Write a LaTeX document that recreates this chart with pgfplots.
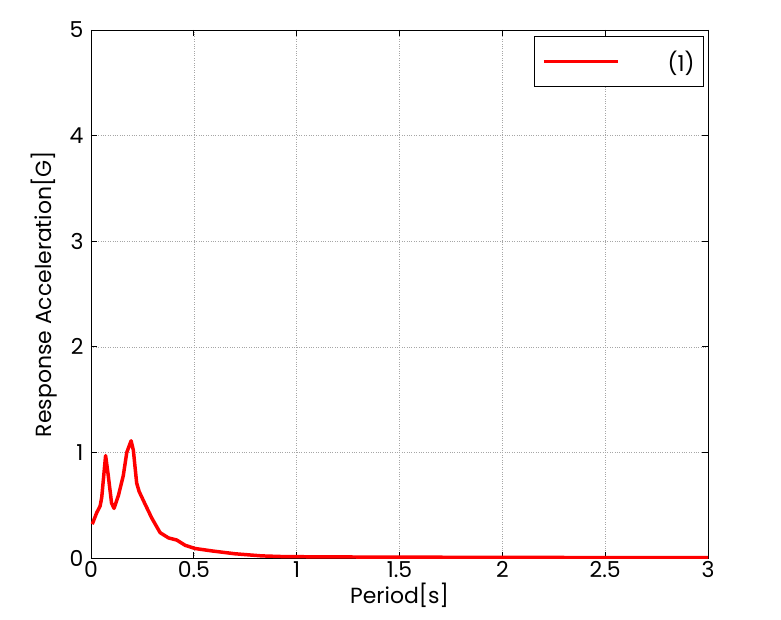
\documentclass[border=0pt]{standalone}
\usepackage{fontspec}
\setmainfont{Poppins}
\usepackage{pgfplots}
\pgfplotsset{compat=1.18}
\begin{document}
\begin{tikzpicture}
\begin{axis}[
  scale only axis, width=617bp, height=528bp,
  xmin=0, xmax=3, ymin=0, ymax=5,
  xtick={0,0.5,...,3}, ytick={0,1,...,5},
  xticklabels={0,0.5,1,1.5,2,2.5,3},
  yticklabels={0,1,2,3,4,5},
  tick align=inside, major tick length=6bp,
  grid=major, grid style={gray!70, dotted, line width=0.6pt},
  axis line style={line width=0.8pt},
  tick style={black, line width=0.8pt},
  ticklabel style={font=\fontsize{22}{24}\selectfont},
  yticklabel style={xshift=-4bp},
  label style={font=\fontsize{22}{24}\selectfont},
  xlabel={Period[s]}, ylabel={Response Acceleration[G]},
  xlabel style={yshift=2bp},
  ylabel style={yshift=6bp},
  legend style={at={(0.9935,0.988)}, anchor=north east, draw=black, line width=0.8pt,
    font=\fontsize{22}{24}\selectfont, inner xsep=8bp, inner ysep=12bp,
    nodes={text width=74bp, align=right, inner xsep=1bp}},
  legend image code/.code={\draw[#1, line width=3.5pt] (0bp,0bp) -- (74bp,0bp);},
]
\addplot[red, line width=3.5pt, line join=round] coordinates {
(0.006,0.32) (0.028,0.43) (0.044,0.49) (0.052,0.57) (0.071,0.97) (0.084,0.78)
(0.100,0.52) (0.112,0.47) (0.133,0.59) (0.157,0.78) (0.174,1.00) (0.195,1.11)
(0.206,1.02) (0.222,0.71) (0.234,0.63) (0.263,0.51) (0.295,0.38) (0.336,0.24)
(0.377,0.19) (0.417,0.17) (0.458,0.12) (0.506,0.09) (0.588,0.067) (0.70,0.04)
(0.83,0.02) (0.94,0.013) (1.2,0.010) (1.5,0.008) (2.0,0.006) (2.5,0.004) (3.0,0.003)
};
\addlegendentry{(1)}
\end{axis}
\pgfresetboundingbox
\path (current axis.south west) ++(-91bp,-62bp) rectangle ([shift={(73bp,30bp)}]current axis.north east);
\end{tikzpicture}
\end{document}
